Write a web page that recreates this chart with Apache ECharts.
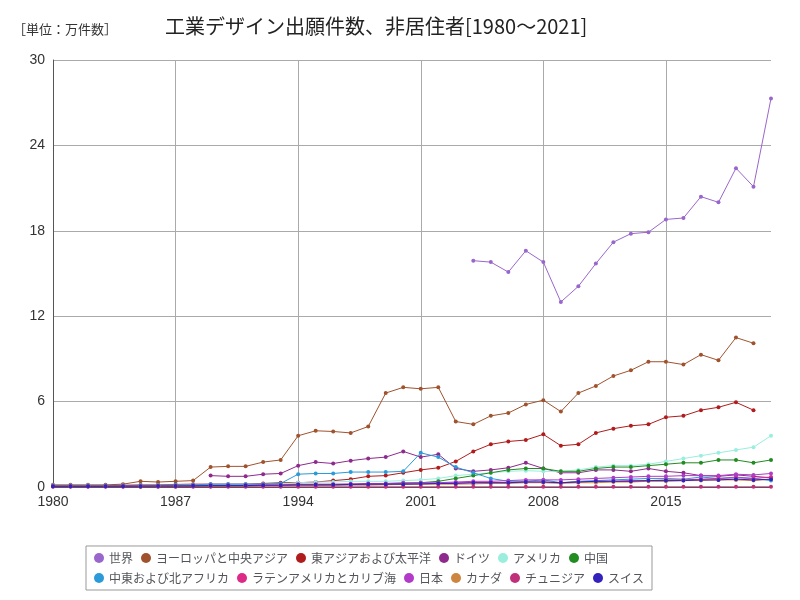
<!DOCTYPE html><html><head><meta charset="utf-8"><script src="https://cdn.jsdelivr.net/npm/echarts@6/dist/echarts.min.js"></script></head><body style="margin:0"><div id="c" style="width:800px;height:600px"></div><script>
const years=[];for(let y=1980;y<=2021;y++)years.push(String(y));
const N=null;
const world=[N,N,N,N,N,N,N,N,N,N,N,N,N,N,N,N,N,N,N,N,N,N,N,N,15.9,15.8,15.1,16.6,15.8,13.0,14.1,15.7,17.2,17.8,17.9,18.8,18.9,20.4,20.0,22.4,21.1,27.3];
const europe=[0.15,0.15,0.15,0.15,0.2,0.4,0.35,0.4,0.45,1.4,1.45,1.45,1.75,1.9,3.6,3.95,3.9,3.8,4.25,6.6,7.0,6.9,7.0,4.6,4.4,5.0,5.2,5.8,6.1,5.3,6.6,7.1,7.8,8.2,8.8,8.8,8.6,9.3,8.9,10.5,10.1,N];
const eastAsia=[0.1,0.1,0.1,0.1,0.12,0.15,0.15,0.18,0.2,0.2,0.2,0.2,0.25,0.3,0.3,0.35,0.45,0.55,0.75,0.8,1.0,1.2,1.35,1.8,2.5,3.0,3.2,3.3,3.7,2.9,3.0,3.8,4.1,4.3,4.4,4.9,5.0,5.4,5.6,5.95,5.4,N];
const germany=[N,N,N,N,N,N,N,N,N,0.8,0.75,0.75,0.9,0.95,1.5,1.75,1.65,1.85,2.0,2.1,2.5,2.1,2.3,1.3,1.1,1.2,1.35,1.7,1.3,1.0,1.0,1.2,1.2,1.1,1.3,1.1,1.0,0.8,0.75,0.85,0.75,0.65];
const usa=[0.1,0.1,0.1,0.1,0.1,0.12,0.12,0.12,0.15,0.15,0.15,0.18,0.2,0.2,0.3,0.35,0.35,0.4,0.4,0.4,0.45,0.5,0.6,0.8,0.9,1.0,1.1,1.15,1.1,1.1,1.2,1.4,1.5,1.5,1.6,1.8,2.0,2.2,2.4,2.6,2.8,3.6];
const china=[N,N,N,N,N,0.02,0.03,0.04,0.05,0.06,0.07,0.08,0.1,0.12,0.15,0.15,0.15,0.18,0.2,0.22,0.25,0.3,0.4,0.6,0.8,1.0,1.2,1.3,1.3,1.1,1.1,1.3,1.4,1.4,1.5,1.6,1.7,1.7,1.9,1.9,1.7,1.9];
const mena=[0.1,0.1,0.1,0.1,0.1,0.12,0.12,0.15,0.15,0.2,0.2,0.2,0.2,0.25,0.9,0.95,0.95,1.05,1.05,1.05,1.1,2.4,2.1,1.4,1.0,0.6,0.4,0.4,0.5,0.3,0.4,0.45,0.5,0.55,0.6,0.6,0.55,0.7,0.6,0.7,0.6,0.45];
const latam=[0.05,0.05,0.05,0.05,0.05,0.06,0.06,0.06,0.07,0.08,0.08,0.08,0.1,0.1,0.12,0.12,0.15,0.15,0.15,0.18,0.2,0.2,0.25,0.3,0.3,0.3,0.3,0.35,0.35,0.3,0.35,0.4,0.4,0.45,0.45,0.5,0.5,0.55,0.6,0.65,0.6,0.7];
const japan=[0.05,0.05,0.05,0.05,0.06,0.06,0.07,0.08,0.1,0.1,0.1,0.12,0.15,0.15,0.2,0.2,0.2,0.22,0.25,0.25,0.3,0.3,0.3,0.35,0.4,0.4,0.45,0.5,0.5,0.5,0.55,0.6,0.65,0.7,0.75,0.75,0.8,0.8,0.8,0.9,0.85,0.95];
const canada=[0.05,0.05,0.05,0.05,0.05,0.06,0.06,0.07,0.07,0.08,0.08,0.08,0.1,0.1,0.12,0.12,0.13,0.15,0.15,0.15,0.18,0.2,0.2,0.2,0.22,0.25,0.25,0.3,0.3,0.25,0.3,0.3,0.35,0.35,0.4,0.4,0.45,0.45,0.5,0.5,0.45,0.55];
const tunisia=[0.01,0.01,0.01,0.01,0.01,0.01,0.01,0.01,0.01,0.01,0.01,0.01,0.01,0.01,0.01,0.01,0.01,0.01,0.01,0.01,0.01,0.01,0.01,0.01,0.01,0.01,0.01,0.01,0.01,0.01,0.01,0.01,0.01,0.01,0.01,0.01,0.01,0.01,0.01,0.01,0.01,0.01];
const swiss=[0.05,0.05,0.05,0.05,0.06,0.06,0.07,0.07,0.08,0.1,0.1,0.1,0.12,0.12,0.15,0.15,0.15,0.18,0.2,0.2,0.2,0.22,0.25,0.25,0.3,0.3,0.3,0.35,0.35,0.3,0.35,0.4,0.4,0.4,0.45,0.45,0.45,0.5,0.5,0.55,0.5,0.55];
const names=['世界','ヨーロッパと中央アジア','東アジアおよび太平洋','ドイツ','アメリカ','中国','中東および北アフリカ','ラテンアメリカとカリブ海','日本','カナダ','チュニジア','スイス'];
const data=[world,europe,eastAsia,germany,usa,china,mena,latam,japan,canada,tunisia,swiss];
const colors=['#9966cc','#a0522d','#b01c1c','#8e2a8e','#99eedd','#228b22','#2a9ad8','#dd2a88','#b23ac8','#cd853f','#c0307a','#3322bb'];
const c=echarts.init(document.getElementById('c'));
c.setOption({
 color:colors,
 title:[{text:'［単位：万件数］',left:8,top:18,textStyle:{fontSize:13,fontWeight:'normal',color:'#333',fontFamily:'Noto Sans CJK JP'}},
  {text:'工業デザイン出願件数、非居住者[1980～2021]',left:160,top:11,textStyle:{fontSize:20,fontWeight:'normal',color:'#222',fontFamily:'Noto Sans CJK JP'}}],
 grid:{left:53,right:29,top:60,bottom:113},
 legend:{bottom:10,left:86,width:650,itemWidth:10,itemHeight:10,icon:'circle',itemGap:8,borderColor:'#999',borderWidth:1,padding:[6,8],textStyle:{fontSize:12,fontFamily:'Noto Sans CJK JP'}},
 xAxis:{type:'category',data:years,boundaryGap:false,axisTick:{show:false},axisLine:{lineStyle:{color:'#555'}},
  axisLabel:{interval:6,fontSize:14,color:'#333'},splitLine:{show:true,interval:6,lineStyle:{color:'#aaa',width:1}}},
 yAxis:{type:'value',min:0,max:30,interval:6,axisLine:{show:true,lineStyle:{color:'#555'}},axisLabel:{fontSize:14,color:'#333'},splitLine:{lineStyle:{color:'#aaa'}}},
 series:data.map((d,i)=>({name:names[i],type:'line',data:d,symbol:'circle',symbolSize:4,lineStyle:{width:1},showSymbol:true}))
});
</script></body></html>
